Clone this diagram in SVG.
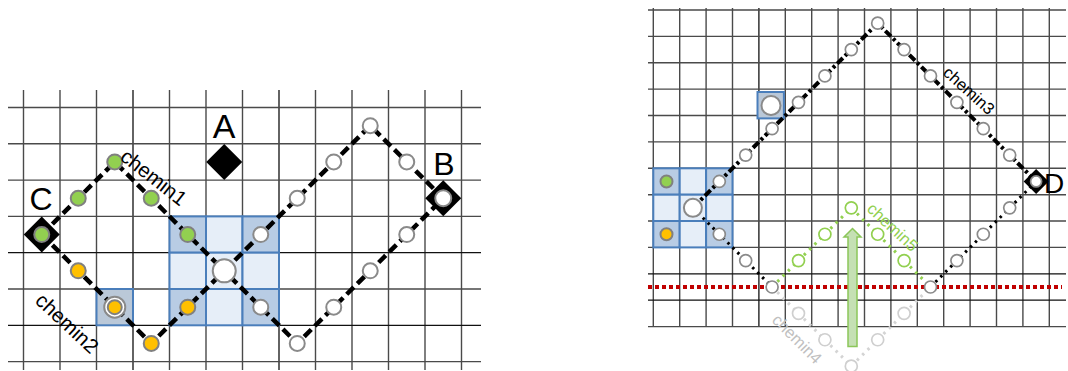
<svg xmlns="http://www.w3.org/2000/svg" width="1068" height="371" viewBox="0 0 1068 371">
<style>
.g{stroke:#4a4a4a;stroke-width:1.4;fill:none}
.gk{stroke:#111;stroke-width:1.3;fill:none}
.dk{fill:#b8cce4;stroke:#4a7ebb;stroke-width:2}
.lt{fill:#e6eef8;stroke:#4a7ebb;stroke-width:2}
.sq{fill:#bac8d8;stroke:#4a7ebb;stroke-width:2}
.dash{fill:none;stroke:#000;stroke-width:4.5;stroke-dasharray:10 5}
.dashR{fill:none;stroke:#000;stroke-width:4;stroke-dasharray:8 3 3 3}
.dot{fill:none;stroke:#000;stroke-width:3;stroke-dasharray:2.5 4.5}
.dotG{fill:none;stroke:#92d050;stroke-width:3;stroke-dasharray:2.5 5}
.dotL{fill:none;stroke:#d4d4d4;stroke-width:3;stroke-dasharray:2.5 5}
.wc{fill:#fff;stroke:#8a8a8a;stroke-width:2}
.gc{fill:#92d050;stroke:#808080;stroke-width:2}
.oc{fill:#ffc000;stroke:#808080;stroke-width:2}
.wr{fill:#fff;stroke:#8a8a8a;stroke-width:1.7}
.grc{fill:#fff;stroke:#92d050;stroke-width:1.7}
.lc{fill:#fff;stroke:#cfcfcf;stroke-width:1.7}
.big{font-family:"Liberation Sans",Arial,sans-serif;fill:#000}
.lab{font-family:"Liberation Sans",Arial,sans-serif}
</style>

<!-- LEFT GRID -->
<g id="grid-left">
<path class="g" d="M23.5 90V370M60 90V370M96.5 90V370M169.5 90V370M206 90V370M242.5 90V370M315.5 90V370M352 90V370M388.5 90V370M425 90V370M461.5 90V370"/>
<path class="gk" d="M133 90V370M279 90V370"/>
<path class="g" d="M8 107.5H481M8 143.8H481M8 180.1H481M8 216.4H481M8 289H481M8 361.6H481"/>
<path class="gk" d="M8 252.7H481M8 325.3H481"/>
</g>

<g id="blocks-left">
<rect class="dk" x="169.5" y="216.4" width="36.5" height="36.3"/>
<rect class="lt" x="206" y="216.4" width="36.5" height="36.3"/>
<rect class="dk" x="242.5" y="216.4" width="36.5" height="36.3"/>
<rect class="lt" x="169.5" y="252.7" width="36.5" height="36.3"/>
<rect class="lt" x="206" y="252.7" width="36.5" height="36.3"/>
<rect class="lt" x="242.5" y="252.7" width="36.5" height="36.3"/>
<rect class="dk" x="169.5" y="289" width="36.5" height="36.3"/>
<rect class="lt" x="206" y="289" width="36.5" height="36.3"/>
<rect class="dk" x="242.5" y="289" width="36.5" height="36.3"/>
<rect class="sq" x="96.5" y="289" width="36.5" height="36.3"/>
</g>

<!-- RIGHT GRID -->
<g id="grid-right">
<path class="g" d="M653.3 8V327M679.7 8V327M706.1 8V327M732.5 8V327M785.3 8V327M811.7 8V327M838.1 8V327M864.5 8V327M890.9 8V327M917.3 8V327M943.7 8V327M970.1 8V327M996.5 8V327M1022.9 8V327M1049.3 8V327"/>
<path class="gk" d="M758.9 8V327"/>
<path class="g" d="M648 10H1066M648 36.4H1066M648 62.8H1066M648 89.1H1066M648 115.5H1066M648 141.9H1066M648 168.3H1066M648 194.7H1066M648 221H1066M648 247.4H1066M648 326.6H1066"/>
<path class="gk" d="M648 273.8H1066M648 300.2H1066"/>
</g>

<g id="blocks-right">
<rect class="dk" x="653.3" y="168.3" width="26.4" height="26.4"/>
<rect class="lt" x="679.7" y="168.3" width="26.4" height="26.4"/>
<rect class="dk" x="706.1" y="168.3" width="26.4" height="26.4"/>
<rect class="lt" x="653.3" y="194.7" width="26.4" height="26.4"/>
<rect class="lt" x="679.7" y="194.7" width="26.4" height="26.4"/>
<rect class="lt" x="706.1" y="194.7" width="26.4" height="26.4"/>
<rect class="dk" x="653.3" y="221" width="26.4" height="26.4"/>
<rect class="lt" x="679.7" y="221" width="26.4" height="26.4"/>
<rect class="dk" x="706.1" y="221" width="26.4" height="26.4"/>
<rect class="sq" x="757.5" y="92" width="26.4" height="26.4"/>
</g>

<!-- red line and arrow -->
<g id="limit">
<path d="M648 287H1062" fill="none" stroke="#c00000" stroke-width="4" stroke-dasharray="4 3"/>
</g>
<g id="arrow">
<path d="M852.5 228.5L861 237H857V346.5H848V237H844Z" fill="#c5e0b4" stroke="#8cc65a" stroke-width="1.5"/>
</g>

<!-- CONNECTORS -->
<g id="connectors">
<polyline class="dash" points="41.75,234.55 78.25,198.25 114.75,161.95 151.25,198.25 187.75,234.55 224.25,270.85"/>
<polyline class="dash" points="41.75,234.55 78.25,270.85 114.75,307.15 151.25,343.45 187.75,307.15 224.25,270.85"/>
<polyline class="dash" points="224.25,270.85 260.75,234.55 297.25,198.25 333.75,161.95 370.25,125.65 406.75,161.95 443.25,198.25 406.75,234.55 370.25,270.85 333.75,307.15 297.25,343.45 260.75,307.15 224.25,270.85"/>

<polyline class="dashR" points="692.9,207.85 719.3,181.47 745.7,155.09 772.1,128.71 798.5,102.33 824.9,75.95 851.3,49.57 877.7,23.19 904.1,49.57 930.5,75.95 956.9,102.33 983.3,128.71 1009.7,155.09 1036.1,181.47"/>
<polyline class="dot" points="692.9,207.85 719.3,234.23 745.7,260.61 772.1,286.99"/>
<polyline class="dot" points="930.5,286.99 956.9,260.61 983.3,234.23 1009.7,207.85 1036.1,181.47"/>
<polyline class="dotG" points="772.1,286.99 798.5,260.61 824.9,234.23 851.3,207.85 877.7,234.23 904.1,260.61 930.5,286.99"/>
<polyline class="dotL" points="772.1,286.99 798.5,313.37 824.9,339.75 851.3,366.13 877.7,339.75 904.1,313.37 930.5,286.99"/>
</g>

<!-- LEFT NODES -->
<g id="node-A">
<polygon points="224.25,143.95 242.25,161.95 224.25,179.95 206.25,161.95" fill="#000"/>
<text class="big" x="224" y="138" font-size="34" text-anchor="middle">A</text>
</g>
<g id="node-C">
<polygon points="41.75,216.55 59.75,234.55 41.75,252.55 23.75,234.55" fill="#000"/>
<circle class="gc" cx="41.75" cy="234.55" r="7.5"/>
<text class="big" x="41" y="210" font-size="32" text-anchor="middle">C</text>
</g>
<g id="node-B">
<polygon points="443.25,180.25 461.25,198.25 443.25,216.25 425.25,198.25" fill="#000"/>
<circle class="wc" cx="443.25" cy="198.25" r="8"/>
<text class="big" x="444" y="175" font-size="32" text-anchor="middle">B</text>
</g>

<g id="chemin1-nodes">
<circle class="gc" cx="78.25" cy="198.25" r="7.5"/>
<circle class="gc" cx="114.75" cy="161.95" r="7.5"/>
<circle class="gc" cx="151.25" cy="198.25" r="7.5"/>
<circle class="gc" cx="187.75" cy="234.55" r="7.5"/>
<text class="lab" transform="translate(119,159) rotate(38)" font-size="20.5" fill="#000">chemin1</text>
</g>
<g id="chemin2-nodes">
<circle class="oc" cx="78.25" cy="270.85" r="7.5"/>
<circle class="wc" cx="114.75" cy="307.15" r="10.5"/>
<circle class="oc" cx="114.75" cy="307.15" r="7" stroke-width="1.5"/>
<circle class="oc" cx="151.25" cy="343.45" r="7.5"/>
<circle class="oc" cx="187.75" cy="307.15" r="7.5"/>
<text class="lab" transform="translate(34,302) rotate(43)" font-size="20.5" fill="#000">chemin2</text>
</g>
<g id="loop-nodes">
<circle class="wc" cx="260.75" cy="234.55" r="7.5"/>
<circle class="wc" cx="297.25" cy="198.25" r="7.5"/>
<circle class="wc" cx="333.75" cy="161.95" r="7.5"/>
<circle class="wc" cx="370.25" cy="125.65" r="7.5"/>
<circle class="wc" cx="406.75" cy="161.95" r="7.5"/>
<circle class="wc" cx="406.75" cy="234.55" r="7.5"/>
<circle class="wc" cx="370.25" cy="270.85" r="7.5"/>
<circle class="wc" cx="333.75" cy="307.15" r="7.5"/>
<circle class="wc" cx="297.25" cy="343.45" r="7.5"/>
<circle class="wc" cx="260.75" cy="307.15" r="7.5"/>
</g>
<g id="node-center-left">
<circle class="wc" cx="224.25" cy="270.85" r="11.5"/>
</g>

<!-- RIGHT NODES -->
<g id="chemin3-nodes">
<circle class="wr" cx="719.3" cy="181.47" r="6"/>
<circle class="wr" cx="745.7" cy="155.09" r="6"/>
<circle class="wr" cx="772.1" cy="128.71" r="6"/>
<circle class="wr" cx="798.5" cy="102.33" r="6"/>
<circle class="wr" cx="824.9" cy="75.95" r="6"/>
<circle class="wr" cx="851.3" cy="49.57" r="6"/>
<circle class="wr" cx="877.7" cy="23.19" r="6"/>
<circle class="wr" cx="904.1" cy="49.57" r="6"/>
<circle class="wr" cx="930.5" cy="75.95" r="6"/>
<circle class="wr" cx="956.9" cy="102.33" r="6"/>
<circle class="wr" cx="983.3" cy="128.71" r="6"/>
<circle class="wr" cx="1009.7" cy="155.09" r="6"/>
<circle class="wr" cx="1009.7" cy="207.85" r="6"/>
<circle class="wr" cx="983.3" cy="234.23" r="6"/>
<circle class="wr" cx="956.9" cy="260.61" r="6"/>
<circle class="wr" cx="930.5" cy="286.99" r="6"/>
<circle class="wr" cx="772.1" cy="286.99" r="6"/>
<circle class="wr" cx="745.7" cy="260.61" r="6"/>
<circle class="wr" cx="719.3" cy="234.23" r="6"/>
<text class="lab" transform="translate(942,74) rotate(42)" font-size="16.5" fill="#000">chemin3</text>
</g>
<g id="chemin5-nodes">
<circle class="grc" cx="798.5" cy="260.61" r="6"/>
<circle class="grc" cx="824.9" cy="234.23" r="6"/>
<circle class="grc" cx="851.3" cy="207.85" r="6"/>
<circle class="grc" cx="877.7" cy="234.23" r="6"/>
<circle class="grc" cx="904.1" cy="260.61" r="6"/>
<text class="lab" transform="translate(866,210) rotate(43)" font-size="16.5" fill="#92d050">chemin5</text>
</g>
<g id="chemin4-nodes">
<circle class="lc" cx="798.5" cy="313.37" r="6"/>
<circle class="lc" cx="824.9" cy="339.75" r="6"/>
<circle class="lc" cx="851.3" cy="366.13" r="6"/>
<circle class="lc" cx="877.7" cy="339.75" r="6"/>
<circle class="lc" cx="904.1" cy="313.37" r="6"/>
<text class="lab" transform="translate(771,321) rotate(45)" font-size="16.5" fill="#c0c0c0">chemin4</text>
</g>
<g id="block-right-nodes">
<circle class="gc" cx="666.5" cy="181.47" r="6" stroke-width="1.6"/>
<circle class="oc" cx="666.5" cy="234.23" r="6" stroke-width="1.6"/>
<circle class="wc" cx="692.9" cy="207.85" r="9"/>
<circle class="wc" cx="771" cy="105.5" r="9.5"/>
</g>
<g id="node-D">
<polygon points="1036.1,169 1048.6,181.47 1036.1,194 1023.6,181.47" fill="#000"/>
<circle class="wr" cx="1036.1" cy="181.47" r="5.5"/>
<text class="big" x="1044" y="193" font-size="28">D</text>
</g>
</svg>
